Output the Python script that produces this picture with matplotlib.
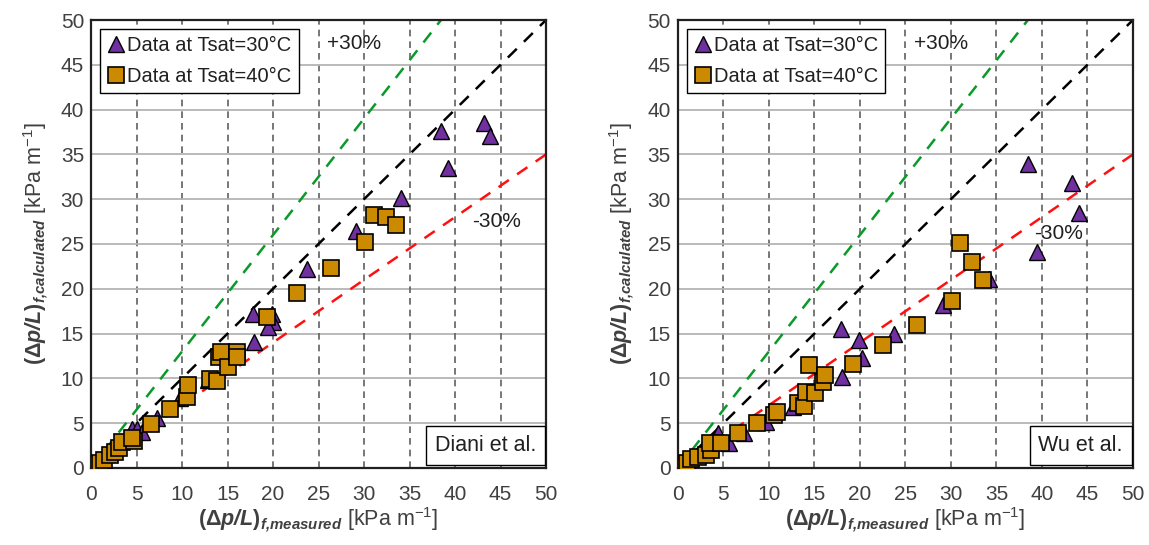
import matplotlib.pyplot as plt
import numpy as np

plt.rcParams['font.family'] = ['Liberation Sans', 'DejaVu Sans']
plt.rcParams['mathtext.fontset'] = 'custom'
plt.rcParams['mathtext.rm'] = 'Liberation Sans'
plt.rcParams['mathtext.it'] = 'Liberation Sans:italic'
plt.rcParams['mathtext.bf'] = 'Liberation Sans:bold'
plt.rcParams['mathtext.bfit'] = 'Liberation Sans:bold:italic'

# Diani et al. correlation
diani_30_meas = [0.3, 0.6, 1.0, 4.5, 5.0, 5.6, 7.3, 9.8, 12.9, 17.9, 17.8, 19.9, 20.0, 19.5,
                 23.7, 29.1, 34.1, 38.5, 39.2, 43.2, 43.8]
diani_30_calc = [0.3, 0.5, 0.8, 4.4, 4.3, 4.0, 5.6, 7.8, 9.8, 14.1, 17.2, 17.2, 16.3, 15.7,
                 22.2, 26.4, 30.1, 37.6, 33.5, 38.5, 37.0]
diani_40_meas = [0.3, 0.5, 0.7, 1.0, 1.4, 2.1, 2.6, 3.1, 3.4, 4.7, 4.5, 6.6, 8.7, 10.5, 10.7,
                 13.1, 13.8, 14.1, 14.3, 15.1, 16.0, 16.0, 19.3, 22.6, 26.4, 30.1, 31.1, 32.4, 33.5]
diani_40_calc = [0.2, 0.1, 0.5, 0.6, 0.9, 1.5, 1.8, 2.2, 2.9, 3.0, 3.4, 4.9, 6.6, 7.9, 9.3,
                 9.9, 9.7, 12.4, 12.9, 11.3, 12.9, 12.4, 16.9, 19.5, 22.3, 25.2, 28.2, 28.0, 27.1]

# Wu et al. correlation
wu_30_meas = [0.3, 0.6, 1.0, 4.4, 5.6, 7.3, 9.7, 12.6, 18.0, 17.9, 19.9, 20.2, 23.8, 29.1,
              34.2, 38.5, 39.5, 43.3, 44.1]
wu_30_calc = [0.3, 0.5, 0.8, 3.9, 2.8, 3.9, 5.1, 6.8, 10.1, 15.5, 14.3, 12.3, 14.9, 18.2,
              21.1, 33.9, 24.1, 31.8, 28.5]
wu_40_meas = [0.3, 0.7, 1.0, 1.4, 2.2, 3.1, 3.6, 3.5, 4.7, 6.6, 8.7, 10.6, 10.9, 13.2, 13.9,
              14.1, 15.1, 14.4, 15.9, 16.2, 19.2, 22.5, 26.3, 30.1, 31.0, 32.3, 33.5]
wu_40_calc = [0.3, 0.1, 0.6, 1.0, 1.2, 1.5, 2.0, 2.8, 2.8, 3.9, 5.0, 5.9, 6.3, 7.2, 6.9,
              8.5, 8.4, 11.5, 9.6, 10.4, 11.6, 13.7, 16.0, 18.6, 25.1, 23.0, 21.0]

ticks = np.arange(0, 51, 5)
text_col = '#404040'

fig = plt.figure(figsize=(11.49, 5.45), dpi=100)
ax1 = fig.add_axes([0.0792, 0.1413, 0.396, 0.822])
ax2 = fig.add_axes([0.590, 0.1413, 0.396, 0.822])

panels = [
    (ax1, diani_30_meas, diani_30_calc, diani_40_meas, diani_40_calc, 'Diani et al.', (44.6, 27.5)),
    (ax2, wu_30_meas, wu_30_calc, wu_40_meas, wu_40_calc, 'Wu et al.', (41.8, 26.2)),
]

for ax, x30, y30, x40, y40, name, minus_pos in panels:
    ax.set_xlim(0, 50)
    ax.set_ylim(0, 50)
    ax.set_xticks(ticks)
    ax.set_yticks(ticks)
    ax.tick_params(length=0, labelsize=15, labelcolor=text_col)
    ax.tick_params(axis='x', pad=12)
    ax.tick_params(axis='y', pad=5)

    for v in ticks[1:-1]:
        ax.axhline(v, color='#b4b4b4', lw=1.3, zorder=0)
        ax.axvline(v, color='#606060', lw=1.2, ls=(0, (4, 3)), zorder=0)

    xs = np.array([0, 50])
    ax.plot(xs, xs, color='black', lw=1.8, ls=(0, (5, 4)), zorder=1)
    ax.plot(xs, 1.3 * xs, color='#0a9a2a', lw=1.8, ls=(0, (5, 4)), zorder=1)
    ax.plot(xs, 0.7 * xs, color='#ff1010', lw=1.8, ls=(0, (5, 4)), zorder=1)

    ax.plot(x30, y30, ls='none', marker='^', ms=11, mfc='#7030a0', mec='black', mew=1,
            label='Data at Tsat=30°C', zorder=3)
    ax.plot(x40, y40, ls='none', marker='s', ms=11, mfc='#cc8a00', mec='black', mew=1.2,
            label='Data at Tsat=40°C', zorder=4)

    for s in ax.spines.values():
        s.set_linewidth(1.6)
        s.set_color('#202020')

    leg = ax.legend(loc='upper left', fontsize=14.5, frameon=True, fancybox=False,
                    edgecolor='black', framealpha=1, handletextpad=0.1, handlelength=0.9,
                    borderpad=0.35, labelspacing=0.6, borderaxespad=0.45)
    leg.get_frame().set_linewidth(1.0)
    for t in leg.get_texts():
        t.set_color('#202020')

    ax.text(28.9, 47.4, '+30%', fontsize=15, ha='center', va='center', color='#202020')
    ax.text(minus_pos[0], minus_pos[1], '-30%', fontsize=15, ha='center', va='center',
            color='#202020', zorder=5)
    ax.text(48.9, 2.5, name, fontsize=15.5, ha='right', va='center', color='#202020', zorder=6,
            bbox=dict(boxstyle='square,pad=0.4', fc='white', ec='black', lw=1.0))

    ax.set_xlabel(r'$\mathbf{(\Delta}\mathbfit{p/L}\mathbf{)}_{\mathbfit{f{,}measured}}$'
                  r' [kPa m$^{-1}$]', fontsize=15.5, color=text_col, labelpad=1)
    ax.set_ylabel(r'$\mathbf{(\Delta}\mathbfit{p/L}\mathbf{)}_{\mathbfit{f{,}calculated}}$'
                  r' [kPa m$^{-1}$]', fontsize=15.5, color=text_col, labelpad=8)

fig.savefig('out.png', dpi=100)
